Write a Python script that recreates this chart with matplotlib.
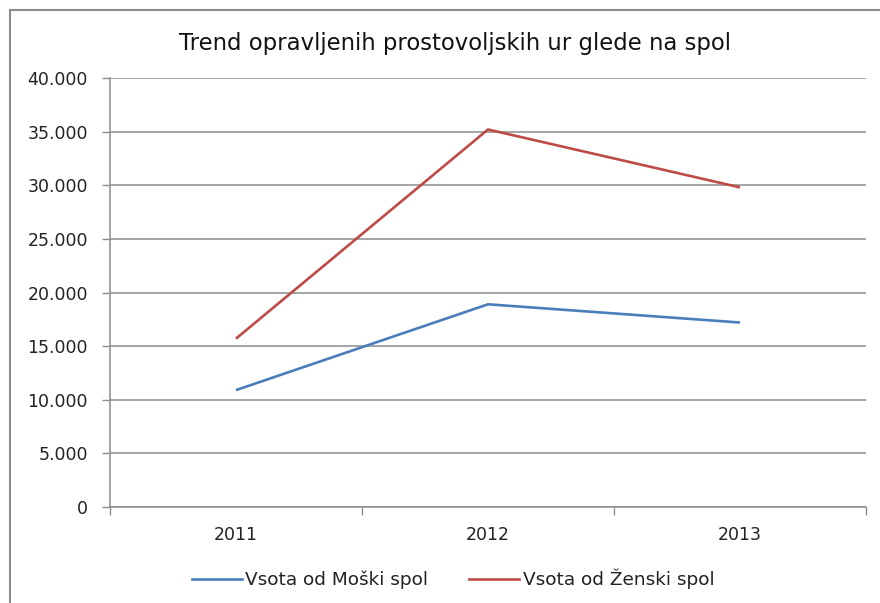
import matplotlib
matplotlib.use("Agg")
import matplotlib.pyplot as plt
from matplotlib.patches import Rectangle
from matplotlib.lines import Line2D

years = ["2011", "2012", "2013"]
moski = [10900, 18900, 17200]
zenski = [15700, 35200, 29800]
yticks = [0, 5000, 10000, 15000, 20000, 25000, 30000, 35000, 40000]
ytick_labels = ["0", "5.000", "10.000", "15.000", "20.000", "25.000", "30.000", "35.000", "40.000"]
title = "Trend opravljenih prostovoljskih ur glede na spol"
legend_labels = ["Vsota od Moški spol", "Vsota od Ženski spol"]

plt.rcParams['font.family'] = ['DejaVu Sans']

W, H = 880, 603
fig = plt.figure(figsize=(W / 100, H / 100), dpi=100)
fig.patch.set_facecolor("white")

# outer chart border
fig.add_artist(Rectangle((10 / W, -0.05), 1.0, (H - 10) / H + 0.05, transform=fig.transFigure,
                         fill=False, edgecolor="#8c8c8c", linewidth=1.5))

left, right, top, bottom = 110, 866, 78, 507
ax = fig.add_axes([left / W, 1 - bottom / H, (right - left) / W, (bottom - top) / H])

x = list(range(len(years)))
ax.plot(x, moski, color="#4A7EBB", linewidth=1.9, solid_capstyle="butt", zorder=3)
ax.plot(x, zenski, color="#BE4B48", linewidth=1.9, solid_capstyle="butt", zorder=3)

ax.set_xlim(-0.5, len(years) - 0.5)
ax.set_ylim(0, 40000)
ax.set_yticks(yticks)
ax.set_yticklabels(ytick_labels)
ax.set_xticks(x)
ax.set_xticklabels(years)
ax.set_xticks([i - 0.5 for i in range(len(years) + 1)], minor=True)
ax.tick_params(axis="x", which="major", length=0, pad=14, labelsize=12.5, colors="#222222")
ax.tick_params(axis="x", which="minor", length=6, width=1, color="#8c8c8c", direction="out")
ax.tick_params(axis="y", length=6, width=1, color="#8c8c8c", direction="out", pad=10,
               labelsize=12.5, labelcolor="#222222")

ax.grid(axis="y", color="#8c8c8c", linewidth=1.1, zorder=1)
ax.set_axisbelow(True)
for s in ["top", "right"]:
    ax.spines[s].set_visible(False)
for s in ["left", "bottom"]:
    ax.spines[s].set_color("#8c8c8c")
    ax.spines[s].set_linewidth(1.1)

fig.text(455 / W, 1 - 50 / H, title, ha="center", va="baseline", fontsize=16.4,
         color="#111111")

handles = [Line2D([], [], color="#4A7EBB", linewidth=1.9),
           Line2D([], [], color="#BE4B48", linewidth=1.9)]
fig.legend(handles, legend_labels, loc="center", bbox_to_anchor=(453 / W, 1 - 579 / H),
           ncol=2, frameon=False, fontsize=13.3, handlelength=2.7, handletextpad=0.2,
           columnspacing=2.2, labelcolor="#222222", borderpad=0, borderaxespad=0)

fig.savefig("out.png", dpi=100, facecolor="white")
